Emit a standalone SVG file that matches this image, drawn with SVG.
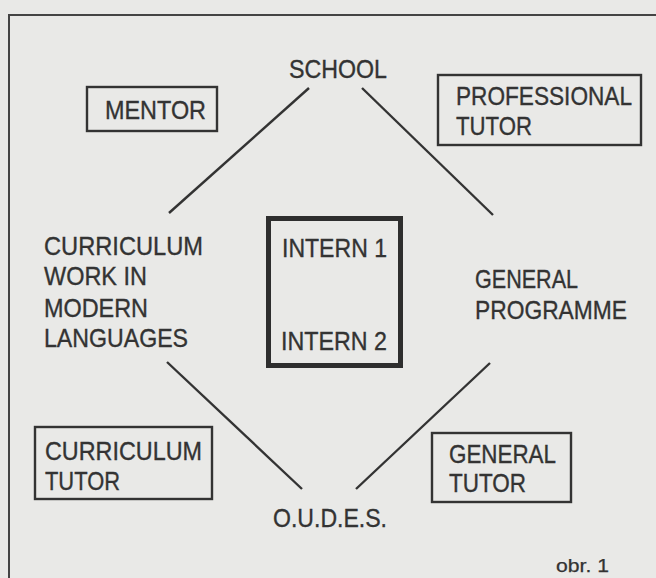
<svg xmlns="http://www.w3.org/2000/svg" width="656" height="578" viewBox="0 0 656 578">
<style>
.t{font-family:"Liberation Sans",Arial,sans-serif;font-size:25.5px;fill:#333;stroke:#333;stroke-width:0.35}
.s{font-family:"Liberation Sans",Arial,sans-serif;font-size:18px;fill:#333;stroke:#333;stroke-width:0.25}
.box{fill:none;stroke:#333;stroke-width:2.4}
.ln{stroke:#333;stroke-width:2.4;fill:none}
</style>
<rect x="0" y="0" width="656" height="578" fill="#e9e9e7"/>
<rect x="9" y="15" width="700" height="600" fill="none" stroke="#444" stroke-width="2"/>
<g id="connectors">
<line class="ln" x1="309" y1="88" x2="169" y2="213"/>
<line class="ln" x1="362" y1="88" x2="493" y2="215"/>
<line class="ln" x1="167" y1="362" x2="302" y2="489"/>
<line class="ln" x1="490" y1="363" x2="356" y2="489"/>
</g>
<g id="school"><text class="t" x="289" y="78" textLength="98" lengthAdjust="spacingAndGlyphs">SCHOOL</text></g>
<g id="mentor"><rect class="box" x="87" y="87" width="130" height="44"/><text class="t" x="105" y="119" textLength="101" lengthAdjust="spacingAndGlyphs">MENTOR</text></g>
<g id="professional-tutor"><rect class="box" x="438" y="75" width="203" height="70"/><text class="t" x="456" y="105" textLength="176" lengthAdjust="spacingAndGlyphs">PROFESSIONAL</text><text class="t" x="456" y="135" textLength="76" lengthAdjust="spacingAndGlyphs">TUTOR</text></g>
<g id="curriculum-work"><text class="t" x="44" y="255" textLength="159" lengthAdjust="spacingAndGlyphs">CURRICULUM</text><text class="t" x="44" y="285" textLength="103" lengthAdjust="spacingAndGlyphs">WORK IN</text><text class="t" x="44" y="317" textLength="104" lengthAdjust="spacingAndGlyphs">MODERN</text><text class="t" x="44" y="347" textLength="144" lengthAdjust="spacingAndGlyphs">LANGUAGES</text></g>
<g id="interns"><rect x="268.5" y="218.5" width="132" height="147" fill="none" stroke="#2e2e2e" stroke-width="5"/><text class="t" x="282" y="257" textLength="105" lengthAdjust="spacingAndGlyphs">INTERN 1</text><text class="t" x="281" y="350" textLength="106" lengthAdjust="spacingAndGlyphs">INTERN 2</text></g>
<g id="general-programme"><text class="t" x="475" y="288" textLength="103" lengthAdjust="spacingAndGlyphs">GENERAL</text><text class="t" x="475" y="319" textLength="152" lengthAdjust="spacingAndGlyphs">PROGRAMME</text></g>
<g id="curriculum-tutor"><rect class="box" x="35" y="427" width="177" height="72"/><text class="t" x="45" y="460" textLength="157" lengthAdjust="spacingAndGlyphs">CURRICULUM</text><text class="t" x="45" y="490" textLength="75" lengthAdjust="spacingAndGlyphs">TUTOR</text></g>
<g id="general-tutor"><rect class="box" x="432" y="433" width="139" height="69"/><text class="t" x="449" y="463" textLength="107" lengthAdjust="spacingAndGlyphs">GENERAL</text><text class="t" x="449" y="492" textLength="77" lengthAdjust="spacingAndGlyphs">TUTOR</text></g>
<g id="oudes"><text class="t" x="273" y="527" textLength="114" lengthAdjust="spacingAndGlyphs">O.U.D.E.S.</text></g>
<g id="caption"><text class="s" x="556" y="572" textLength="53" lengthAdjust="spacingAndGlyphs">obr. 1</text></g>
</svg>
